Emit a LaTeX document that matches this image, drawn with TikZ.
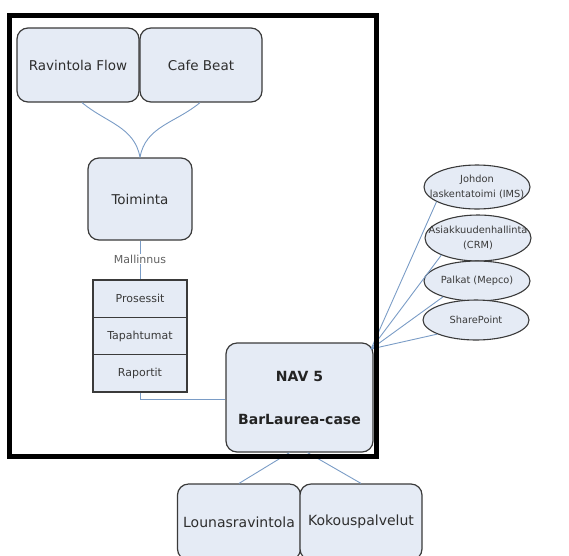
\documentclass[tikz,border=0pt]{standalone}
\usepackage{fontspec}
\setmainfont{DejaVu Sans}
\usetikzlibrary{shapes.geometric}
\definecolor{boxfill}{HTML}{E5EBF5}
\definecolor{boxline}{HTML}{3A3A3A}
\definecolor{conn}{HTML}{7A9CC6}
\begin{document}
\begin{tikzpicture}[x=1pt,y=-1pt]
\tikzstyle{every node}+=[inner sep=0pt]
\tikzstyle{rbox}=[draw=boxline, fill=boxfill, line width=1.2pt, rounded corners=11pt, text=boxline!80!black, font=\fontsize{13.5}{16}\selectfont]
\tikzstyle{stackbox}=[draw=boxline, fill=boxfill, line width=1.2pt, minimum width=94pt, minimum height=37.3pt, font=\fontsize{11}{13}\selectfont, text=boxline]
\tikzstyle{oval}=[ellipse, draw=boxline, fill=boxfill, line width=1.1pt, inner xsep=-20pt, inner ysep=-10pt, align=center, font=\fontsize{9.8}{14.5}\selectfont, text=boxline]
\tikzstyle{link}=[conn, line width=0.9pt]
\useasboundingbox (0,0) rectangle (569,555);
\clip (0,0) rectangle (569,555);
% top boxes
\node[rbox, minimum width=122pt, minimum height=74pt] (flow) at (78,65) {Ravintola Flow};
\node[rbox, minimum width=122pt, minimum height=74pt] (beat) at (201,65) {Cafe Beat};
\node[rbox, minimum width=104pt, minimum height=82pt] (toim) at (140,199) {Toiminta};
\draw[link] ([xshift=4pt]flow.south) to[out=-40, in=100] (toim.north);
\draw[link] ([xshift=-1pt]beat.south) to[out=-140, in=80] (toim.north);
% modelling stack
\node[font=\fontsize{11}{13}\selectfont, text=boxline!80, fill=white, inner sep=1pt] (mall) at (140,259) {Mallinnus};
\node[stackbox] (pros) at (140,298.7) {Prosessit};
\node[stackbox] (tapa) at (140,336) {Tapahtumat};
\node[stackbox] (rap) at (140,373.3) {Raportit};
\draw[link] (toim.south) -- (mall.north);
\draw[link] (mall.south) -- (pros.north);
% NAV
\node[rbox, minimum width=147pt, minimum height=109pt, align=center, text=boxline!60!black, font=\fontsize{14}{16}\selectfont\bfseries] (nav) at (299.5,397.5) {NAV 5\\[27pt]BarLaurea-case};
\draw[link] (rap.south) |- (nav.west |- 0,399);
% systems
\node[oval, minimum width=106pt, minimum height=44pt] (ims) at (477,187) {Johdon\\laskentatoimi (IMS)};
\node[oval, minimum width=106pt, minimum height=46pt] (crm) at (478,238) {Asiakkuudenhallinta\\(CRM)};
\node[oval, minimum width=106pt, minimum height=40pt] (mep) at (477,281) {Palkat (Mepco)};
\node[oval, minimum width=106pt, minimum height=40pt] (shp) at (476,320) {SharePoint};
\coordinate (hub) at (371,349);
\foreach \s/\a in {ims/200, crm/205, mep/205, shp/200}
  \draw[link] (hub) -- (\s.\a);
% bottom boxes
\node[rbox, minimum width=123pt, minimum height=76pt, font=\fontsize{14}{16}\selectfont] (loun) at (239,522) {Lounasravintola};
\node[rbox, minimum width=122pt, minimum height=76pt, font=\fontsize{14}{16}\selectfont] (koko) at (361,522) {Kokouspalvelut};
\draw[link] ([xshift=-10pt]nav.south) -- (loun.north);
\draw[link] ([xshift=8pt]nav.south) -- (koko.north);
% frame
\draw[line width=5pt] (9.5,15) rectangle (376,456);
\end{tikzpicture}
\end{document}
